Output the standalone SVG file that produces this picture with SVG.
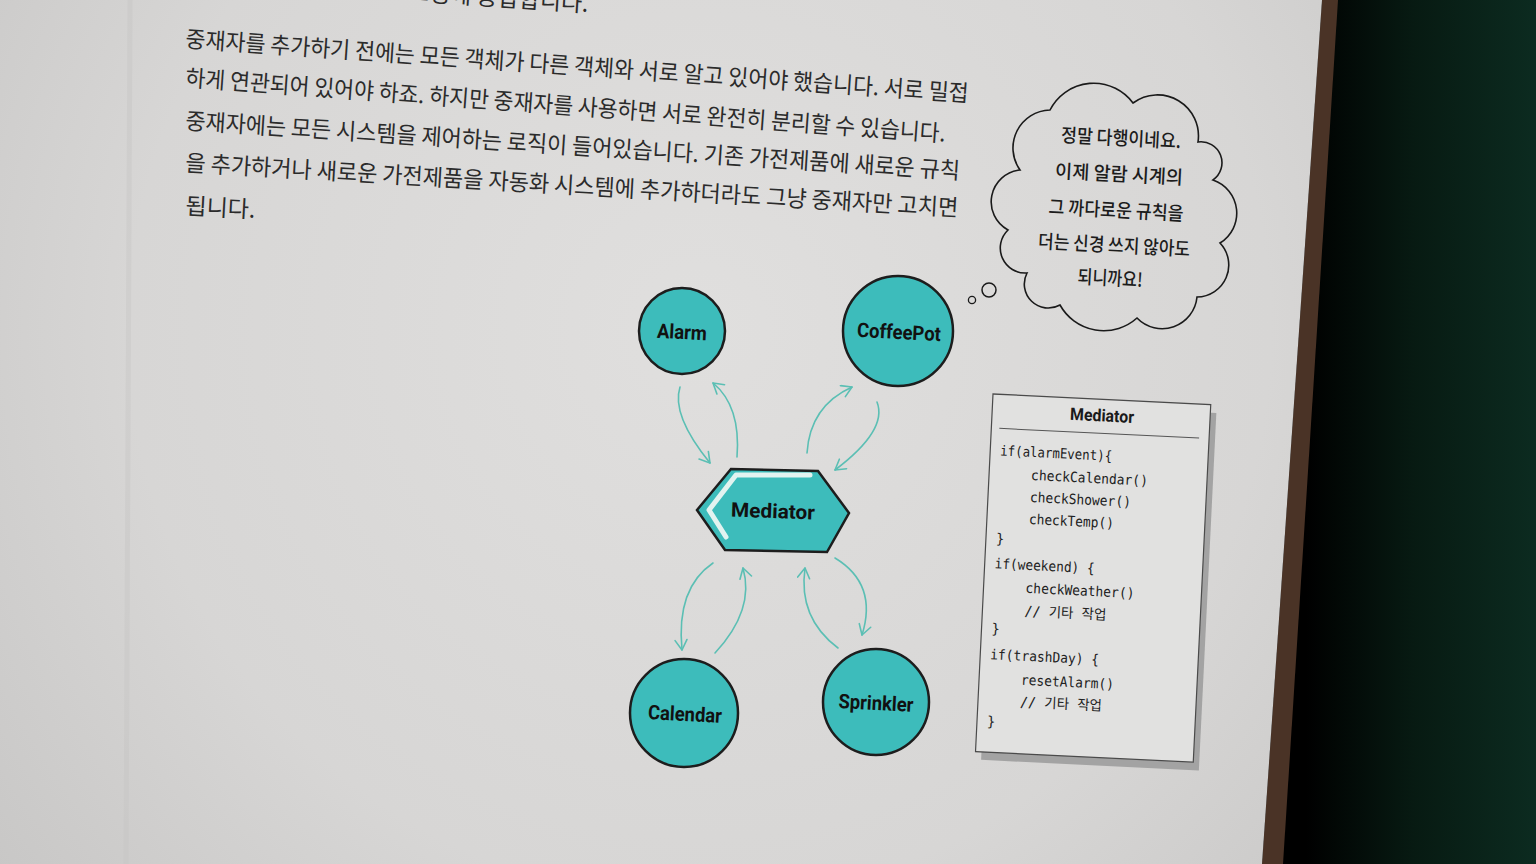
<svg xmlns="http://www.w3.org/2000/svg" width="1536" height="864" viewBox="0 0 1536 864">
<defs>
<linearGradient id="bg" x1="0" y1="0" x2="1536" y2="0" gradientUnits="userSpaceOnUse">
<stop offset="0.85" stop-color="#000000"/>
<stop offset="0.92" stop-color="#071a12"/>
<stop offset="1" stop-color="#0c2b20"/>
</linearGradient>
<radialGradient id="paper" cx="700" cy="330" r="950" gradientUnits="userSpaceOnUse">
<stop offset="0" stop-color="#e0dfde"/>
<stop offset="0.6" stop-color="#d7d6d5"/>
<stop offset="1" stop-color="#c5c4c3"/>
</radialGradient>
<marker id="ah" markerUnits="userSpaceOnUse" markerWidth="16" markerHeight="16" refX="12" refY="7" orient="auto">
<path d="M2,1 L12,7 L2,13" fill="none" stroke="#5bbfb4" stroke-width="1.6" stroke-linecap="round" stroke-linejoin="round"/>
</marker>
<style>
.body{font-family:"Noto Sans CJK KR","Noto Sans",sans-serif;font-size:23px;fill:#2b2b2b;}
.hand{font-family:"Noto Sans CJK KR",sans-serif;font-size:19px;font-weight:500;fill:#1c1c1c;text-anchor:middle;}
.node{fill:#3dbcbb;stroke:#1d1d1d;stroke-width:2.5;}
.lbl{font-family:Roboto,"Liberation Sans",sans-serif;font-weight:700;font-size:20px;fill:#111;text-anchor:middle;}
.code{font-family:"DejaVu Sans Mono","Noto Sans CJK KR",monospace;font-size:14px;fill:#222;}
.conn{fill:none;stroke:#5bbfb4;stroke-width:1.6;stroke-linecap:round;marker-end:url(#ah);}
</style>
</defs>

<!-- background -->
<rect x="0" y="0" width="1536" height="864" fill="url(#bg)"/>
<polygon points="1322,0 1338,0 1283,864 1262,864" fill="#4a3326"/>
<polygon points="0,0 1322,0 1262,864 0,864" fill="url(#paper)"/>
<line x1="130" y1="0" x2="126" y2="864" stroke="#c6c5c4" stroke-width="5" opacity="0.4"/>

<!-- body text -->
<g id="bodytext">
<text class="body" x="588" y="12" transform="rotate(3.8 588 12)" text-anchor="end">요청에 응답합니다.</text>
<text class="body" x="185" y="47" transform="rotate(4.0 185 47)" textLength="785" lengthAdjust="spacingAndGlyphs">중재자를 추가하기 전에는 모든 객체가 다른 객체와 서로 알고 있어야 했습니다. 서로 밀접</text>
<text class="body" x="185" y="86" transform="rotate(4.2 185 86)" textLength="762" lengthAdjust="spacingAndGlyphs">하게 연관되어 있어야 하죠. 하지만 중재자를 사용하면 서로 완전히 분리할 수 있습니다.</text>
<text class="body" x="185" y="129" transform="rotate(3.7 185 129)" textLength="776" lengthAdjust="spacingAndGlyphs">중재자에는 모든 시스템을 제어하는 로직이 들어있습니다. 기존 가전제품에 새로운 규칙</text>
<text class="body" x="185" y="171" transform="rotate(3.35 185 171)" textLength="774" lengthAdjust="spacingAndGlyphs">을 추가하거나 새로운 가전제품을 자동화 시스템에 추가하더라도 그냥 중재자만 고치면</text>
<text class="body" x="185" y="214" transform="rotate(3.2 185 214)" textLength="70" lengthAdjust="spacingAndGlyphs">됩니다.</text>
</g>

<!-- thought cloud -->
<g id="cloud">
<path d="M1050,110 A49,49 0 0 1 1133,103 A41,41 0 0 1 1198,142 A21,21 0 0 1 1213,180 A35,35 0 0 1 1220,243 A32,32 0 0 1 1197,297 A35,35 0 0 1 1137,318 A50,50 0 0 1 1060,305 A24,24 0 0 1 1027,273 A25,25 0 0 1 1008,230 A32,32 0 0 1 1020,170 A38,38 0 0 1 1050,110 Z" fill="none" stroke="#1a1a1a" stroke-width="1.6"/>
<circle cx="989" cy="290" r="7" fill="none" stroke="#1a1a1a" stroke-width="1.5"/>
<circle cx="972" cy="300" r="3.6" fill="none" stroke="#1a1a1a" stroke-width="1.3"/>
<text class="hand" x="1121" y="145" transform="rotate(3 1121 140)" textLength="120" lengthAdjust="spacingAndGlyphs">정말 다행이네요.</text>
<text class="hand" x="1119" y="181" transform="rotate(3 1119 176)" textLength="128" lengthAdjust="spacingAndGlyphs">이제 알람 시계의</text>
<text class="hand" x="1116" y="217" transform="rotate(3 1116 212)" textLength="135" lengthAdjust="spacingAndGlyphs">그 까다로운 규칙을</text>
<text class="hand" x="1114" y="252" transform="rotate(3 1114 247)" textLength="152" lengthAdjust="spacingAndGlyphs">더는 신경 쓰지 않아도</text>
<text class="hand" x="1110" y="285" transform="rotate(3 1110 280)" textLength="65" lengthAdjust="spacingAndGlyphs">되니까요!</text>
</g>

<!-- connectors -->
<g id="connectors">
<path class="conn" d="M680,387 Q671,415 710,463"/>
<path class="conn" d="M737,457 Q741,406 713,383"/>
<path class="conn" d="M807,453 Q810,406 852,387"/>
<path class="conn" d="M877,402 Q888,430 835,470"/>
<path class="conn" d="M713,563 Q676,588 682,650"/>
<path class="conn" d="M715,653 Q755,610 743,568"/>
<path class="conn" d="M838,648 Q798,618 805,568"/>
<path class="conn" d="M835,558 Q878,584 862,635"/>
</g>

<!-- nodes -->
<g id="alarm">
<circle class="node" cx="682" cy="331" r="43"/>
<text class="lbl" x="682" y="339" transform="rotate(3 682 332)" textLength="50" lengthAdjust="spacingAndGlyphs">Alarm</text>
</g>
<g id="coffeepot">
<circle class="node" cx="898" cy="331" r="55"/>
<text class="lbl" x="899" y="339" transform="rotate(3 899 332)" textLength="84" lengthAdjust="spacingAndGlyphs">CoffeePot</text>
</g>
<g id="mediator">
<polygon class="node" points="697,510 731,469 818,471 849,513 827,552 725,550"/>
<path d="M810,475 L736,475 L709,510 L726,537" fill="none" stroke="#e2f3f0" stroke-width="5" stroke-linecap="round" stroke-linejoin="round"/>
<text class="lbl" x="773" y="518" transform="rotate(2 773 511)" textLength="84" lengthAdjust="spacingAndGlyphs">Mediator</text>
</g>
<g id="calendar">
<circle class="node" cx="684" cy="713" r="54"/>
<text class="lbl" x="685" y="721" transform="rotate(3 685 714)" textLength="74" lengthAdjust="spacingAndGlyphs">Calendar</text>
</g>
<g id="sprinkler">
<circle class="node" cx="876" cy="702" r="53"/>
<text class="lbl" x="876" y="710" transform="rotate(3 876 703)" textLength="75" lengthAdjust="spacingAndGlyphs">Sprinkler</text>
</g>

<!-- Mediator code box -->
<g id="mediator-code" transform="rotate(2.8 993 394)">
<rect x="999" y="402" width="218" height="358" fill="#a3a3a3"/>
<rect x="993" y="394" width="218" height="358" fill="#e1e1e0" stroke="#4a4a4a" stroke-width="1.2"/>
<text x="1103" y="416" font-family="Roboto,'Liberation Sans',sans-serif" font-weight="700" font-size="17" fill="#1a1a1a" text-anchor="middle" textLength="64" lengthAdjust="spacingAndGlyphs">Mediator</text>
<line x1="1001" y1="428" x2="1201" y2="428" stroke="#555" stroke-width="1"/>
<text class="code" x="1003" y="455" textLength="112" lengthAdjust="spacingAndGlyphs">if(alarmEvent){</text>
<text class="code" x="1035" y="478" textLength="117" lengthAdjust="spacingAndGlyphs">checkCalendar()</text>
<text class="code" x="1035" y="500" textLength="101" lengthAdjust="spacingAndGlyphs">checkShower()</text>
<text class="code" x="1035" y="522" textLength="85" lengthAdjust="spacingAndGlyphs">checkTemp()</text>
<text class="code" x="1003" y="543">}</text>
<text class="code" x="1003" y="568" textLength="100" lengthAdjust="spacingAndGlyphs">if(weekend) {</text>
<text class="code" x="1035" y="591" textLength="109" lengthAdjust="spacingAndGlyphs">checkWeather()</text>
<text class="code" x="1035" y="614" textLength="82" lengthAdjust="spacingAndGlyphs">// 기타 작업</text>
<text class="code" x="1003" y="633">}</text>
<text class="code" x="1003" y="659" textLength="109" lengthAdjust="spacingAndGlyphs">if(trashDay) {</text>
<text class="code" x="1035" y="683" textLength="93" lengthAdjust="spacingAndGlyphs">resetAlarm()</text>
<text class="code" x="1035" y="705" textLength="82" lengthAdjust="spacingAndGlyphs">// 기타 작업</text>
<text class="code" x="1003" y="726">}</text>
</g>
</svg>
